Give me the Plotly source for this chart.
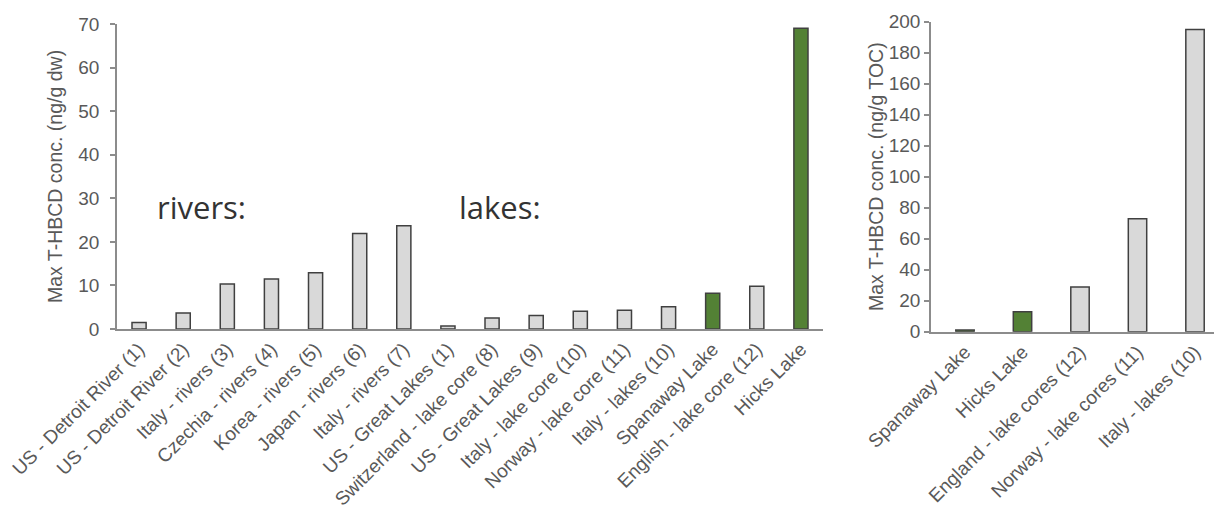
import plotly.graph_objects as go

# ---- data ----
left_categories = [
    "US - Detroit River (1)", "US - Detroit River (2)", "Italy - rivers (3)",
    "Czechia - rivers (4)", "Korea - rivers (5)", "Japan - rivers (6)",
    "Italy - rivers (7)", "US - Great Lakes (1)", "Switzerland - lake core (8)",
    "US - Great Lakes (9)", "Italy - lake core (10)", "Norway - lake core (11)",
    "Italy - lakes (10)", "Spanaway Lake", "English - lake core (12)", "Hicks Lake",
]
left_values = [1.5, 3.7, 10.3, 11.5, 12.9, 21.9, 23.7, 0.7, 2.5, 3.1, 4.1, 4.3, 5.1, 8.2, 9.8, 69.0]

right_categories = [
    "Spanaway Lake", "Hicks Lake", "England - lake cores (12)",
    "Norway - lake cores (11)", "Italy - lakes (10)",
]
right_values = [1.1, 12.8, 28.8, 72.9, 195.0]

highlighted = {"Spanaway Lake", "Hicks Lake"}

left_title = "Max T-HBCD conc. (ng/g dw)"
right_title = "Max T-HBCD conc. (ng/g TOC)"
group_labels = ["rivers:", "lakes:"]

# ---- style ----
GREY = "#d9d9d9"
GREEN = "#538135"
OUTLINE = "#404040"
AXIS = "#8c8c8c"
TEXT = "#595959"
FONT = "Liberation Sans, Arial, sans-serif"

W, H = 1214, 517


def colors(cats):
    return [GREEN if c in highlighted else GREY for c in cats]


fig = go.Figure()
fig.add_trace(go.Bar(
    x=left_categories, y=left_values, xaxis="x", yaxis="y",
    marker=dict(color=colors(left_categories), line=dict(color=OUTLINE, width=1.5)),
    width=0.32, showlegend=False,
))
fig.add_trace(go.Bar(
    x=right_categories, y=right_values, xaxis="x2", yaxis="y2",
    marker=dict(color=colors(right_categories), line=dict(color=OUTLINE, width=1.5)),
    width=0.32, showlegend=False,
))

tick_font = dict(family=FONT, size=19, color=TEXT)
xtick_font = dict(family=FONT, size=19, color=TEXT)
title_font = dict(family=FONT, size=19.5, color=TEXT)

common_x = dict(showgrid=False, zeroline=False, showline=True, linecolor=AXIS, linewidth=1.5,
                ticks="", tickangle=-45, tickfont=xtick_font, automargin=False)
common_y = dict(showgrid=False, zeroline=False, showline=True, linecolor=AXIS, linewidth=1.5,
                ticks="outside", ticklen=5, tickcolor=AXIS, tickwidth=1.5,
                tickfont=tick_font, automargin=False)

fig.update_layout(
    width=W, height=H,
    margin=dict(l=0, r=0, t=0, b=0),
    paper_bgcolor="white", plot_bgcolor="white",
    bargap=0.68,
    xaxis=dict(domain=[117 / W, 823 / W], anchor="y", range=[-0.5, 15.5], **common_x),
    yaxis=dict(domain=[1 - 329 / H, 1 - 24 / H], anchor="x", range=[0, 70], dtick=10,
               ticklabelstandoff=7,
               title=dict(text=left_title, font=title_font, standoff=10), **common_y),
    xaxis2=dict(domain=[931 / W, 1.0], anchor="y2", range=[-0.591, 4.33], **common_x),
    yaxis2=dict(domain=[1 - 331.7 / H, 1 - 21.7 / H], anchor="x2", range=[0, 200], dtick=20,
                ticklabelstandoff=0,
                title=dict(text=right_title, font=title_font, standoff=0), **common_y),
    annotations=[
        dict(text=group_labels[0], x=155 / W, y=1 - 207 / H, xref="paper", yref="paper",
             xanchor="left", yanchor="middle", showarrow=False,
             font=dict(family="Open Sans, sans-serif", size=31, color="#333333")),
        dict(text=group_labels[1], x=457 / W, y=1 - 207 / H, xref="paper", yref="paper",
             xanchor="left", yanchor="middle", showarrow=False,
             font=dict(family="Open Sans, sans-serif", size=31, color="#333333")),
    ],
)

fig.write_html("out.html")
